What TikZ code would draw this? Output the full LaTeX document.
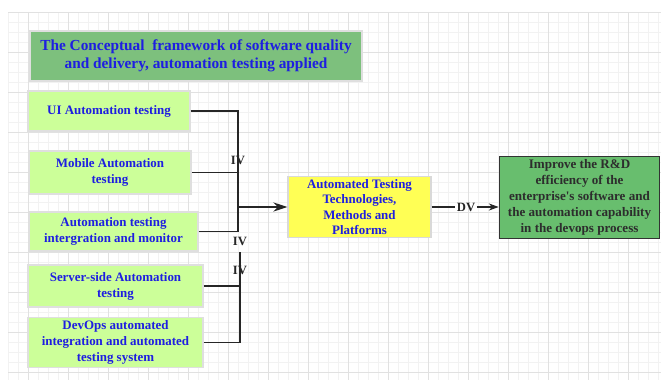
\documentclass[tikz,border=0pt]{standalone}
\usepackage{fontspec}
\setmainfont{Liberation Serif}
\usepackage{xcolor}
\usetikzlibrary{arrows.meta,positioning,calc}

\definecolor{titlegreen}{RGB}{125,192,125}
\definecolor{boxgreen}{RGB}{204,255,153}
\definecolor{boxyellow}{RGB}{255,255,85}
\definecolor{dvgreen}{RGB}{104,190,110}
\definecolor{textblue}{RGB}{30,30,225}
\definecolor{textdark}{RGB}{45,45,45}
\definecolor{gridminor}{RGB}{242,242,242}
\definecolor{gridmajor}{RGB}{225,225,225}

\begin{document}
\begin{tikzpicture}[
    x=0.025cm, y=-0.025cm,
    titlebox/.style={rectangle, draw=gray!25, line width=0.8pt, fill=titlegreen, align=center, font=\fontsize{10.9}{12.8}\selectfont\bfseries, text=textblue, inner sep=2pt},
    factor/.style={rectangle, draw=gray!25, line width=0.8pt, fill=boxgreen, align=center, font=\fontsize{9.2}{11.4}\selectfont\bfseries, text=textblue, inner sep=2pt},
    mediator/.style={rectangle, draw=gray!30, line width=0.8pt, fill=boxyellow, align=center, font=\fontsize{9.2}{10.8}\selectfont\bfseries, text=textblue, inner sep=2pt},
    outcome/.style={rectangle, draw=black!80, line width=1.1pt, fill=dvgreen, align=center, font=\fontsize{9.3}{11.4}\selectfont\bfseries, text=textdark, inner sep=2pt},
    varlabel/.style={font=\fontsize{9}{10}\selectfont\bfseries, text=black!85, inner sep=1pt},
    conn/.style={draw=black!85, line width=1.4pt},
    arrow/.style={conn, -{Stealth[length=10pt,width=6.5pt]}},
    smallarrow/.style={conn, -{Stealth[length=7pt,width=5pt]}}
]
    \useasboundingbox (0,0) rectangle (661,380);

    % background grid
    \foreach \gx in {8,18,...,658} \draw[gridminor, line width=0.5pt] (\gx,12) -- (\gx,380);
    \foreach \gy in {12,22,...,372} \draw[gridminor, line width=0.5pt] (8,\gy) -- (661,\gy);
    \foreach \gx in {28,68,...,628} \draw[gridmajor, line width=0.6pt] (\gx,12) -- (\gx,380);
    \foreach \gy in {12,52,...,372} \draw[gridmajor, line width=0.6pt] (8,\gy) -- (661,\gy);

    % title
    \node[titlebox, minimum width=8.3cm, minimum height=1.25cm] (title) at (196,56) {The Conceptual \ framework of software quality\\and delivery, automation testing applied};

    % independent variables
    \node[factor, minimum width=4.05cm, minimum height=1.0cm] (ui) at (109,111) {UI Automation testing};
    \node[factor, minimum width=4.05cm, minimum height=1.075cm] (mobile) at (110,172.5) {Mobile Automation\\testing};
    \node[factor, minimum width=4.225cm, minimum height=0.975cm] (integ) at (113.5,231.5) {Automation testing\\intergration and monitor};
    \node[factor, minimum width=4.375cm, minimum height=1.05cm] (server) at (115.5,286) {Server-side Automation\\testing};
    \node[factor, minimum width=4.375cm, minimum height=1.225cm] (devops) at (115.5,342.5) {DevOps automated\\integration and automated\\testing system};

    % mediator and dependent variable
    \node[mediator, minimum width=3.575cm, minimum height=1.5cm] (tech) at (359.5,207) {Automated Testing\\Technologies,\\Methods and\\Platforms};
    \node[outcome, minimum width=4.0cm, minimum height=2.0cm] (dv) at (579.5,197.5) {Improve the R\&D\\efficiency of the\\enterprise\textquotesingle s software and\\the automation capability\\in the devops process};

    % upper bus
    \coordinate (busa) at (238,207);
    \draw[conn] (ui.east) -| (busa);
    \draw[conn] (mobile.east) -| (busa);
    \draw[conn] (integ.east) -| (busa);
    \draw[arrow] (busa) -- (tech.west);

    % lower bus
    \coordinate (busb) at (240,252);
    \draw[conn] (server.east) -| (busb);
    \draw[conn] (devops.east) -| (busb);

    \node[varlabel] (iva) at (238,160) {IV};
    \node[varlabel] (ivb) at (240,241) {IV};
    \node[varlabel] (ivc) at (240,270) {IV};

    % DV link
    \node[varlabel] (dvlab) at (466,207) {DV};
    \draw[conn] (tech.east) -- (dvlab.west);
    \draw[smallarrow] (dvlab.east) -- (dvlab.east -| dv.west);
\end{tikzpicture}
\end{document}
